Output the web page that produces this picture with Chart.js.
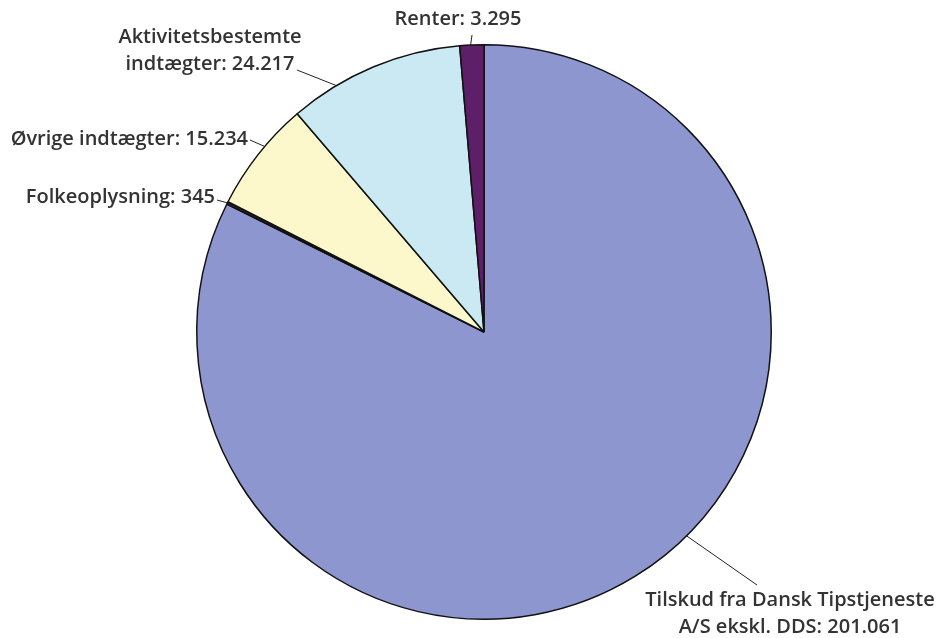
<!DOCTYPE html>
<html><head><meta charset="utf-8">
<script src="https://cdn.jsdelivr.net/npm/chart.js@4"></script>
<style>html,body{margin:0;padding:0;background:#fff;}#wrap{width:946px;height:638px;}</style>
</head><body><div id="wrap"><canvas id="c"></canvas></div>
<script>
const categories = ["Tilskud fra Dansk Tipstjeneste A/S ekskl. DDS", "Folkeoplysning", "Øvrige indtægter", "Aktivitetsbestemte indtægter", "Renter"];
const values = [201061, 345, 15234, 24217, 3295];
const valueLabels = ["201.061", "345", "15.234", "24.217", "3.295"];
const colors = ["#8d96cf", "#3b2443", "#fcf8cc", "#cbe9f2", "#5c1f68"];

// label layout: text lines, text anchor position, leader end, anchor fraction in slice
const labelLayout = [
  {lines: ["Tilskud fra Dansk Tipstjeneste", "A/S ekskl. DDS: " + valueLabels[0]], x: 790, y: 600, size: 20, align: "center", lx: 757, ly: 585, frac: 0.456},
  {lines: ["Folkeoplysning: " + valueLabels[1]], x: 215, y: 197, size: 20, align: "right", lx: 217, ly: 200, frac: 0.5},
  {lines: ["Øvrige indtægter: " + valueLabels[2]], x: 248, y: 139, size: 20, align: "right", lx: 250, ly: 140, frac: 0.59},
  {lines: ["Aktivitetsbestemte", "indtægter: " + valueLabels[3]], x: 210, y: 37, size: 20, align: "center", lx: 297, ly: 70, frac: 0.27},
  {lines: ["Renter: " + valueLabels[4]], x: 458, y: 19, size: 20, align: "center", lx: 472, ly: 35, frac: 0.45}
];

const labelPlugin = {
  id: "pieLabels",
  afterDraw(chart) {
    const ctx = chart.ctx;
    const meta = chart.getDatasetMeta(0);
    ctx.save();
    meta.data.forEach((arc, i) => {
      const L = labelLayout[i];
      const a = arc.startAngle + L.frac * (arc.endAngle - arc.startAngle);
      const px = arc.x + Math.cos(a) * arc.outerRadius;
      const py = arc.y + Math.sin(a) * arc.outerRadius;
      ctx.strokeStyle = "#222";
      ctx.lineWidth = 1;
      ctx.beginPath();
      ctx.moveTo(L.lx, L.ly);
      ctx.lineTo(px, py);
      ctx.stroke();
      ctx.fillStyle = "#333";
      ctx.font = "600 " + L.size + "px 'Open Sans'";
      ctx.textAlign = L.align;
      ctx.textBaseline = "middle";
      L.lines.forEach((t, k) => ctx.fillText(t, L.x, L.y + k * 27));
    });
    ctx.restore();
  }
};

new Chart(document.getElementById("c"), {
  type: "pie",
  data: {
    labels: categories,
    datasets: [{
      data: values,
      backgroundColor: colors,
      borderColor: "#111",
      borderWidth: 1.5
    }]
  },
  options: {
    responsive: true,
    maintainAspectRatio: false,
    animation: false,
    layout: {padding: {top: 44, bottom: 18, left: 22, right: 0}},
    plugins: {legend: {display: false}, tooltip: {enabled: false}}
  },
  plugins: [labelPlugin]
});
</script>
</body></html>
